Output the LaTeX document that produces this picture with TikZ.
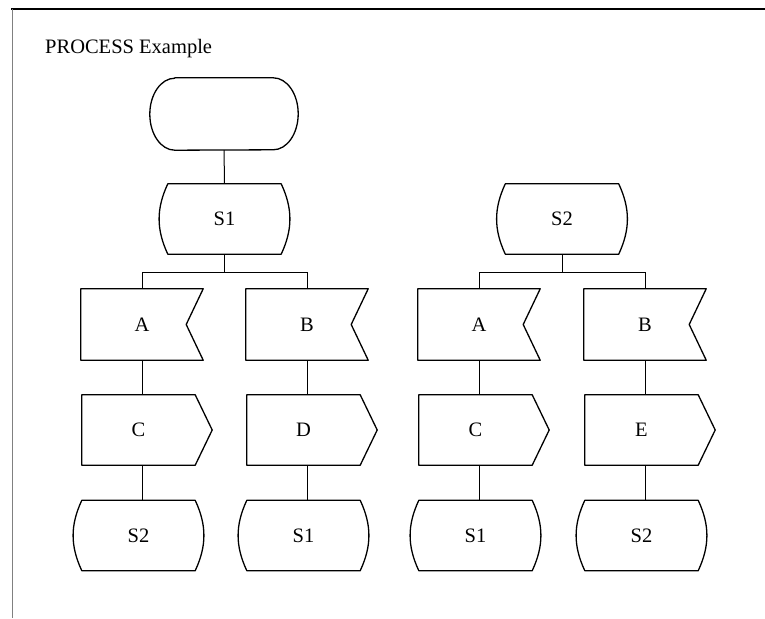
\documentclass[tikz,border=0pt]{standalone}
\usepackage{fontspec}
\setmainfont{Liberation Serif}
\usepackage{tikz}

\begin{document}
\begin{tikzpicture}[
    x=1pt, y=1pt,
    font=\fontsize{20.5}{24}\selectfont,
    outline/.style={line width=1.3pt, line join=round},
    link/.style={line width=1pt},
    terminal/.style={minimum width=148pt, minimum height=72pt, inner sep=0pt,
        append after command={\pgfextra{
            \draw[outline] ([xshift=25pt]\tikzlastnode.north west) -- ([xshift=-25pt]\tikzlastnode.north east)
                arc[start angle=90, end angle=-90, x radius=25pt, y radius=36pt]
                -- ([xshift=25pt]\tikzlastnode.south west)
                arc[start angle=270, end angle=90, x radius=25pt, y radius=36pt] -- cycle;}}},
    sdlstate/.style={minimum width=113pt, minimum height=70pt, inner sep=0pt,
        append after command={\pgfextra{
            \draw[outline] (\tikzlastnode.north west) -- (\tikzlastnode.north east)
                to[out=-65, in=65] (\tikzlastnode.south east) -- (\tikzlastnode.south west)
                to[out=115, in=-115] (\tikzlastnode.north west) -- cycle;}}},
    input/.style={minimum width=122pt, minimum height=71pt, inner sep=0pt,
        append after command={\pgfextra{
            \draw[outline] (\tikzlastnode.north west) -- (\tikzlastnode.north east)
                -- ([xshift=-17pt]\tikzlastnode.east) -- (\tikzlastnode.south east)
                -- (\tikzlastnode.south west) -- cycle;}}},
    output/.style={minimum width=113pt, minimum height=70pt, inner sep=0pt,
        append after command={\pgfextra{
            \draw[outline] (\tikzlastnode.north west) -- (\tikzlastnode.north east)
                -- ([xshift=17pt]\tikzlastnode.east) -- (\tikzlastnode.south east)
                -- (\tikzlastnode.south west) -- cycle;}}}
]

    \useasboundingbox (0,0) rectangle (765,-618);

    % frame
    \draw[line width=2pt] (11,-9) -- (765,-9);
    \draw[gray, line width=0.8pt] (12,-9) -- (12,-618);

    \node[anchor=base west, inner sep=0pt] (title) at (45,-53) {PROCESS Example};

    % start and the two states
    \node[terminal] (start) at (224,-114) {};
    \node[sdlstate] (st1) at (224.5,-219) {S1};
    \node[sdlstate] (st2) at (562,-219) {S2};

    \draw[link] (start) -- (st1);

    \draw[link] (st1.south) -- ++(0,-18) coordinate (fork1);
    \draw[link] (st2.south) -- ++(0,-18) coordinate (fork2);

    % transitions: input, output, next state
    \foreach \i/\x/\a/\b/\s in {1/142/A/C/S2, 2/307/B/D/S1, 3/479/A/C/S1, 4/645/B/E/S2} {
        \node[input] (in\i) at (\x,-324.5) {\a};
        \node[output] (out\i) at (\x-3.5,-430) {\b};
        \node[sdlstate] (next\i) at (\x-3.5,-535.5) {\s};

        \draw[link] (in\i) -- (in\i |- out\i.north);
        \draw[link] (in\i |- out\i.south) -- (in\i |- next\i.north);
    }

    \draw[link] (fork1) -| (in1.north);
    \draw[link] (fork1) -| (in2.north);
    \draw[link] (fork2) -| (in3.north);
    \draw[link] (fork2) -| (in4.north);

\end{tikzpicture}
\end{document}
